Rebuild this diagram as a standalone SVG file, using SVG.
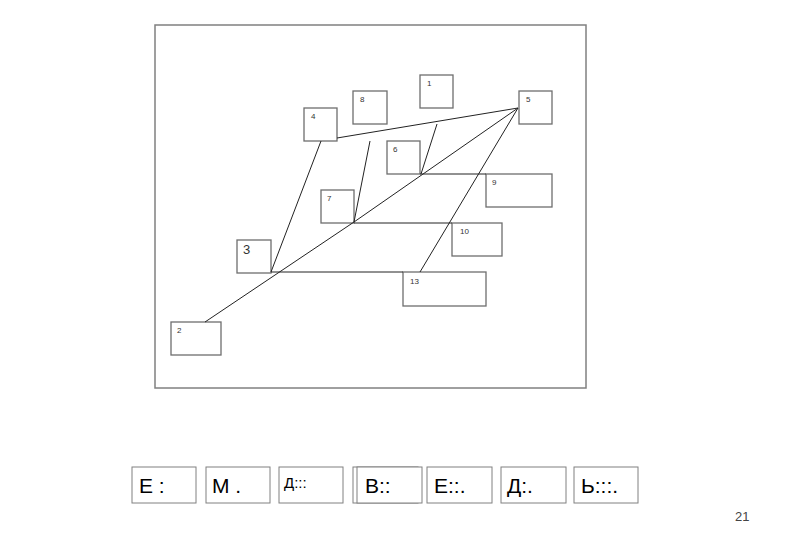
<svg xmlns="http://www.w3.org/2000/svg" width="800" height="554" viewBox="0 0 800 554">
<style>
.frame{fill:#fff;stroke:#808080;stroke-width:1.5}
.box{fill:#fff;stroke:#6e6e6e;stroke-width:1.3}
.lbl{font-family:"Liberation Sans",Arial,sans-serif;font-size:8px;fill:#333}
.bb{fill:#fff;stroke:#808080;stroke-width:1}
.bt{font-family:"Liberation Sans",Arial,sans-serif;font-size:21px;fill:#000}
.conn line{stroke:#222;stroke-width:1}
</style>
<rect width="800" height="554" fill="#fff"/>
<rect class="frame" x="155" y="25" width="431" height="363"/>
<g id="n1"><rect class="box" x="420" y="75" width="33" height="33"/><text class="lbl" x="427" y="86">1</text></g>
<g id="n8"><rect class="box" x="353" y="91" width="34" height="33"/><text class="lbl" x="360" y="102">8</text></g>
<g id="n4"><rect class="box" x="304" y="108" width="33" height="33"/><text class="lbl" x="311" y="119">4</text></g>
<g id="n5"><rect class="box" x="519" y="91" width="33" height="33"/><text class="lbl" x="526" y="102">5</text></g>
<g id="n6"><rect class="box" x="387" y="141" width="33" height="33"/><text class="lbl" x="393" y="152">6</text></g>
<g id="n9"><rect class="box" x="486" y="174" width="66" height="33"/><text class="lbl" x="492" y="185">9</text></g>
<g id="n7"><rect class="box" x="321" y="190" width="33" height="33"/><text class="lbl" x="327" y="201">7</text></g>
<g id="n10"><rect class="box" x="452" y="223" width="50" height="33"/><text class="lbl" x="460" y="234">10</text></g>
<g id="n3"><rect class="box" x="237" y="240" width="34" height="33"/><text class="lbl" x="243" y="254" style="font-size:13px">3</text></g>
<g id="n13"><rect class="box" x="403" y="272" width="83" height="34"/><text class="lbl" x="410" y="284">13</text></g>
<g id="n2"><rect class="box" x="171" y="322" width="50" height="33"/><text class="lbl" x="177" y="333">2</text></g>
<g id="connectors" class="conn">
<line x1="321" y1="141" x2="271" y2="272"/>
<line x1="337" y1="138" x2="518" y2="108"/>
<line x1="518" y1="108" x2="354" y2="222"/>
<line x1="354" y1="222" x2="205" y2="322"/>
<line x1="370" y1="141" x2="354" y2="222"/>
<line x1="437" y1="124" x2="421" y2="174"/>
<line x1="518" y1="108" x2="420" y2="272"/>
<line x1="420" y1="174" x2="486" y2="174"/>
<line x1="354" y1="223" x2="452" y2="223"/>
<line x1="271" y1="272" x2="403" y2="272"/>
</g>
<g id="b1"><rect class="bb" x="132" y="467" width="64" height="36"/><text class="bt" x="139" y="493">Е :</text></g>
<g id="b2"><rect class="bb" x="206" y="467" width="64" height="36"/><text class="bt" x="212" y="493">М .</text></g>
<g id="b3"><rect class="bb" x="279" y="467" width="64" height="36"/><text class="bt" x="284" y="488" style="font-size:15px">Д:::</text></g>
<g id="b4"><rect class="bb" x="353" y="467" width="65" height="36"/><rect class="bb" x="357" y="467" width="65" height="36"/><text class="bt" x="365" y="493">В::</text></g>
<g id="b5"><rect class="bb" x="427" y="467" width="65" height="36"/><text class="bt" x="434" y="493">Е::.</text></g>
<g id="b6"><rect class="bb" x="501" y="467" width="65" height="36"/><text class="bt" x="507" y="493">Д:.</text></g>
<g id="b7"><rect class="bb" x="574" y="467" width="64" height="36"/><text class="bt" x="581" y="493">Ь:::.</text></g>
<text x="735" y="521" style="font-family:'Liberation Sans',Arial,sans-serif;font-size:13px;fill:#444">21</text>
</svg>
